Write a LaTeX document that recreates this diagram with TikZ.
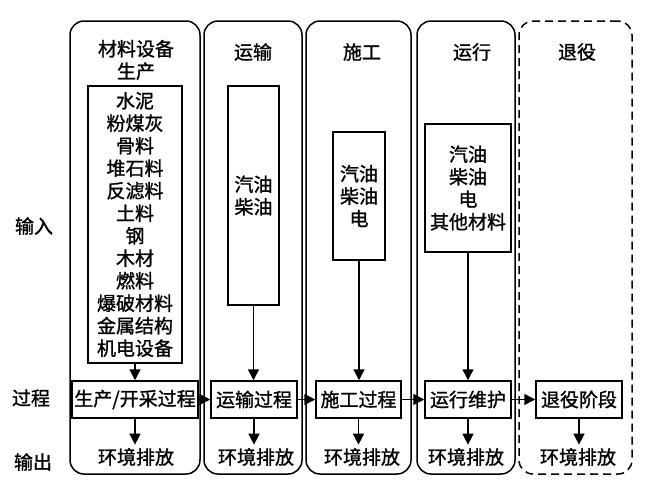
\documentclass[tikz,border=0pt]{standalone}
\usepackage{fontspec}
\newfontfamily\cjk[FakeBold=1.2]{Noto Sans CJK SC}
\usetikzlibrary{arrows.meta,positioning}

\begin{document}
\begin{tikzpicture}[x=1pt, y=-1pt,
    font=\cjk\fontsize{19}{22.5}\selectfont,
    stage/.style={draw, line width=1.5pt, rounded corners=14pt, inner sep=0pt},
    inbox/.style={draw, line width=1.5pt, align=center, inner sep=0pt},
    procbox/.style={draw, line width=1.5pt, inner sep=0pt, minimum height=37pt},
    flow/.style={-{Triangle[length=11pt, width=11pt]}, line width=1.5pt}]
    \useasboundingbox (0,0) rectangle (654,501);

    % Stage frames
    \node[stage, minimum width=130pt, minimum height=453pt] (s1) at (135,247.5) {};
    \node[stage, minimum width=98pt, minimum height=453pt] (s2) at (253,247.5) {};
    \node[stage, minimum width=105pt, minimum height=453pt] (s3) at (358.5,247.5) {};
    \node[stage, minimum width=98pt, minimum height=453pt] (s4) at (466,247.5) {};
    \node[stage, dashed, dash pattern=on 8pt off 5pt, minimum width=113pt, minimum height=453pt] (s5) at (575.5,247.5) {};

    % Stage headings
    \node[align=center] (h1) at (136,60) {材料设备\\生产};
    \node (h2) at (253,52) {运输};
    \node (h3) at (362,52) {施工};
    \node (h4) at (472,52) {运行};
    \node (h5) at (577,52) {退役};

    % Row labels
    \node (rin) at (34,226) {输入};
    \node (rproc) at (31,398) {过程};
    \node (rout) at (33,462) {输出};

    % Inputs
    \node[inbox, minimum width=94pt, minimum height=277pt] (in1) at (135,224.5)
        {水泥\\粉煤灰\\骨料\\堆石料\\反滤料\\土料\\钢\\木材\\燃料\\爆破材料\\金属结构\\机电设备};
    \node[inbox, minimum width=51pt, minimum height=219pt] (in2) at (253.5,195.5) {汽油\\柴油};
    \node[inbox, minimum width=52pt, minimum height=128pt] (in3) at (359,196) {汽油\\柴油\\电};
    \node[inbox, minimum width=86pt, minimum height=128pt] (in4) at (468,188) {汽油\\柴油\\电\\其他材料};

    % Processes
    \node[procbox, minimum width=126pt] (p1) at (135,399.5) {生产/开采过程};
    \node[procbox, minimum width=86pt] (p2) at (254,399.5) {运输过程};
    \node[procbox, minimum width=85pt] (p3) at (358.5,399.5) {施工过程};
    \node[procbox, minimum width=86pt] (p4) at (468,399.5) {运行维护};
    \node[procbox, minimum width=86pt] (p5) at (579,399.5) {退役阶段};

    % Outputs
    \node (o1) at (136,457) {环境排放};
    \node (o2) at (256,457) {环境排放};
    \node (o3) at (362,457) {环境排放};
    \node (o4) at (466,457) {环境排放};
    \node (o5) at (578,457) {环境排放};

    % Arrows
    \foreach \i in {1,...,4} {
        \draw[flow] (in\i.south) -- (in\i.south |- p\i.north);
    }
    \foreach \i in {1,...,5} {
        \draw[flow] (p\i.south) -- (p\i.south |- o\i.north);
    }
    \foreach \i/\j in {1/2,2/3,3/4,4/5} {
        \draw[flow] (p\i.east) -- (p\j.west);
    }
\end{tikzpicture}
\end{document}
